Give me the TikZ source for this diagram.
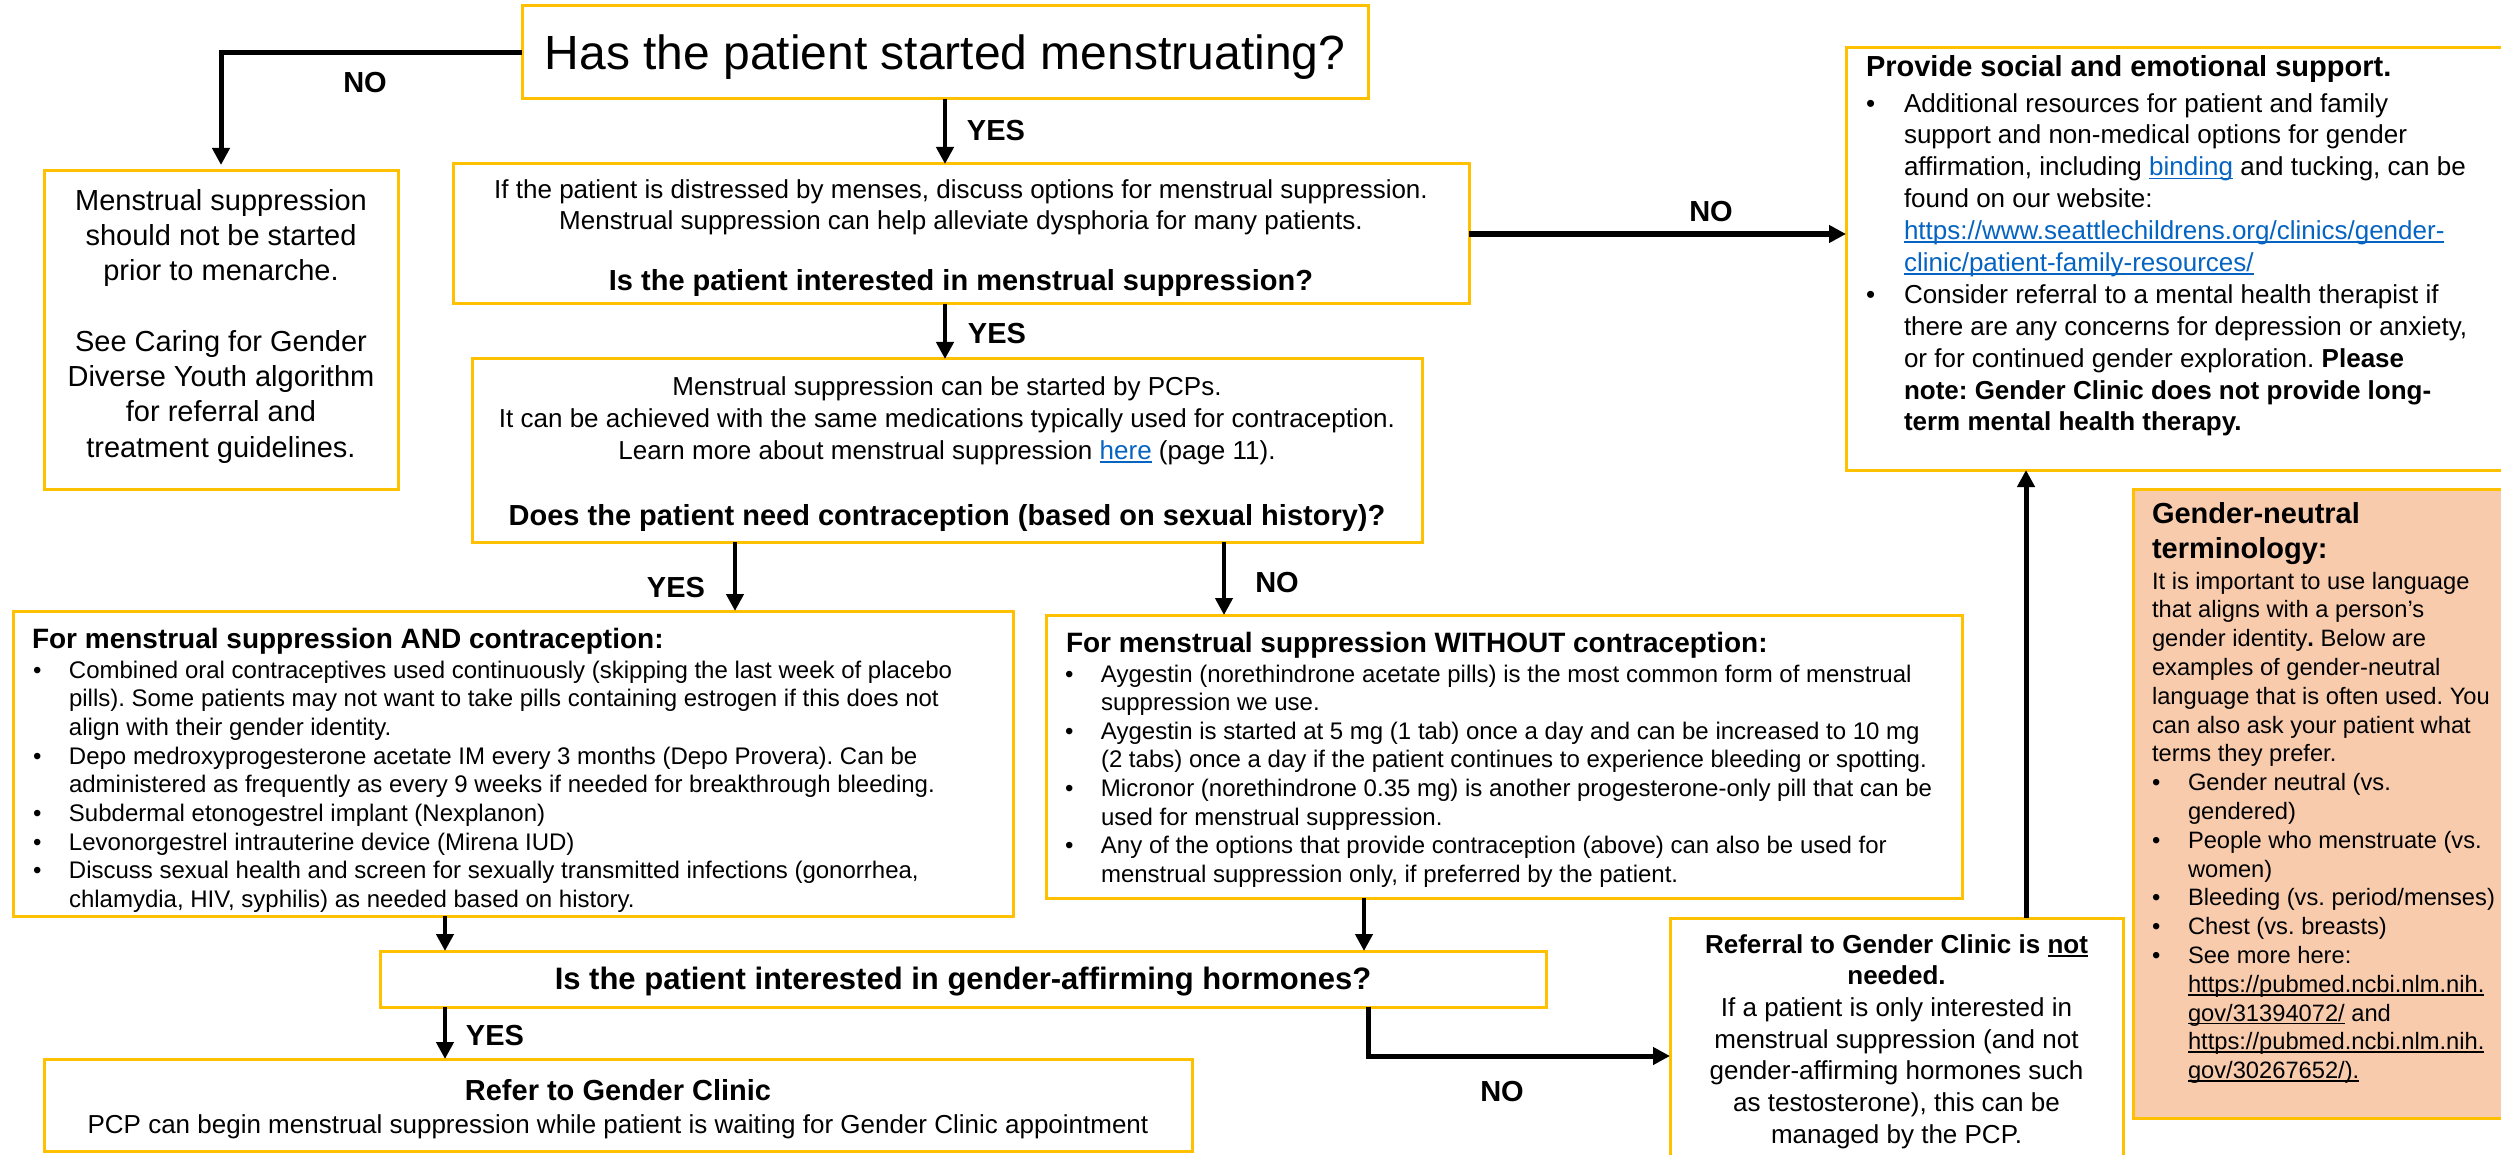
\documentclass[tikz,border=0pt]{standalone}
\usepackage{fontspec}
\setmainfont{Liberation Sans}
\usetikzlibrary{arrows.meta,calc}
\definecolor{gold}{HTML}{FFC000}
\definecolor{linkblue}{HTML}{0563C1}
\definecolor{peach}{HTML}{F8CBAD}
\frenchspacing
\newlength\bind
\newcommand\fsz[2]{\fontsize{#1pt}{#2pt}\selectfont}
\newcommand\ts{\rule{0pt}{1em}}
\newcommand\myul[1]{\setbox0=\hbox{#1}\rlap{\rule[-0.14em]{\wd0}{0.07em}}\box0\relax}
\newcommand\lk[1]{{\color{linkblue}\myul{#1}}}
\newcommand\bu{\makebox[\bind][l]{•}}
\newcommand\ct{\hspace*{\bind}}
\begin{document}
\begin{tikzpicture}[x=1pt,y=-1pt,
  box/.style={draw=gold,line width=3pt,inner sep=0pt,outer sep=0pt},
  txt/.style={inner sep=0pt,outer sep=0pt},
  lab/.style={txt,font=\fsz{29}{35}\bfseries,anchor=base},
  arr/.style={line width=4.5pt,-{Triangle[length=17pt,width=17pt]}},
]
\useasboundingbox (0,0) rectangle (2501,1155);
% boxes
\node[box,minimum width=846pt,minimum height=93pt] (b0) at (945,52.5) {};
\node[box,minimum width=354pt,minimum height=318pt] (b1) at (221,330) {};
\node[box,minimum width=1016pt,minimum height=140pt] (b2) at (961,234) {};
\node[box,minimum width=950pt,minimum height=183pt] (b3) at (947,450.5) {};
\node[box,minimum width=1000pt,minimum height=305pt] (b4) at (513,763.5) {};
\node[box,minimum width=916pt,minimum height=283pt] (bw) at (1504,756.5) {};
\node[box,minimum width=1166pt,minimum height=56pt] (b5) at (963,979) {};
\node[box,minimum width=1148pt,minimum height=92pt] (b6) at (618,1105) {};
\node[box,minimum width=453pt,minimum height=252pt] (b7) at (1896.5,1044) {};
\node[box,minimum width=669pt,minimum height=422pt] (b8) at (2180.5,259) {};
\node[box,fill=peach,minimum width=382pt,minimum height=629pt] (b9) at (2324,803.5) {};
% texts
\node[txt,font=\fsz{48}{56},anchor=base] (t0) at (945,69.6) {Has the patient started menstruating?};
\node[txt,font=\fsz{29}{35.3},align=center,anchor=north] (t1) at (221,181) {\ts Menstrual suppression\\should not be started\\prior to menarche.\\\mbox{}\\See Caring for Gender\\Diverse Youth algorithm\\for referral and\\treatment guidelines.};
\node[txt,font=\fsz{26}{31},align=center,anchor=north] (t2a) at (961,173) {\ts If the patient is distressed by menses, discuss options for menstrual suppression.\\Menstrual suppression can help alleviate dysphoria for many patients.};
\node[txt,font=\fsz{29}{35}\bfseries,anchor=base] (t2b) at (961,291) {Is the patient interested in menstrual suppression?};
\node[txt,font=\fsz{26}{32},align=center,anchor=north] (t3a) at (947,369) {\ts Menstrual suppression can be started by PCPs.\\It can be achieved with the same medications typically used for contraception.\\Learn more about menstrual suppression \lk{here} (page 11).};
\node[txt,font=\fsz{29}{35}\bfseries,anchor=base] (t3b) at (947,525) {Does the patient need contraception (based on sexual history)?};
\global\bind=36pt
\node[txt,font=\fsz{28}{34}\bfseries,anchor=base west] (t4h) at (32,648) {For menstrual suppression AND contraception:};
\node[txt,font=\fsz{24}{28.7},align=left,anchor=north west] (t4) at (33,654) {\ts\bu Combined oral contraceptives used continuously (skipping the last week of placebo\\
\ct pills). Some patients may not want to take pills containing estrogen if this does not\\
\ct align with their gender identity.\\
\bu Depo medroxyprogesterone acetate IM every 3 months (Depo Provera). Can be\\
\ct administered as frequently as every 9 weeks if needed for breakthrough bleeding.\\
\bu Subdermal etonogestrel implant (Nexplanon)\\
\bu Levonorgestrel intrauterine device (Mirena IUD)\\
\bu Discuss sexual health and screen for sexually transmitted infections (gonorrhea,\\
\ct chlamydia, HIV, syphilis) as needed based on history.};
\node[txt,font=\fsz{28}{34}\bfseries,anchor=base west] (twh) at (1066,652) {For menstrual suppression WITHOUT contraception:};
\node[txt,font=\fsz{24}{28.6},align=left,anchor=north west] (tw) at (1065,658) {\ts\bu Aygestin (norethindrone acetate pills) is the most common form of menstrual\\
\ct suppression we use.\\
\bu Aygestin is started at 5 mg (1 tab) once a day and can be increased to 10 mg\\
\ct (2 tabs) once a day if the patient continues to experience bleeding or spotting.\\
\bu Micronor (norethindrone 0.35 mg) is another progesterone-only pill that can be\\
\ct used for menstrual suppression.\\
\bu Any of the options that provide contraception (above) can also be used for\\
\ct menstrual suppression only, if preferred by the patient.};
\node[txt,font=\fsz{31}{37}\bfseries,anchor=base] (t5) at (963,989) {Is the patient interested in gender-affirming hormones?};
\node[txt,font=\fsz{29}{35}\bfseries,anchor=base] (t6a) at (618,1100) {Refer to Gender Clinic};
\node[txt,font=\fsz{26}{31},anchor=base] (t6b) at (618,1133) {PCP can begin menstrual suppression while patient is waiting for Gender Clinic appointment};
\node[txt,font=\fsz{26}{31.7},align=center,anchor=north] (t7) at (1896.5,927) {\ts\textbf{Referral to Gender Clinic is \myul{not}}\\\textbf{needed.}\\If a patient is only interested in\\menstrual suppression (and not\\gender-affirming hormones such\\as testosterone), this can be\\managed by the PCP.};
\global\bind=38pt
\node[txt,font=\fsz{29}{35}\bfseries,anchor=base west] (t8h) at (1866,77) {Provide social and emotional support.};
\node[txt,font=\fsz{26}{31.9},align=left,anchor=north west] (t8) at (1866,86) {\ts\bu Additional resources for patient and family\\
\ct support and non-medical options for gender\\
\ct affirmation, including \lk{binding} and tucking, can be\\
\ct found on our website:\\
\ct \lk{https://www.seattlechildrens.org/clinics/gender-}\\
\ct \lk{clinic/patient-family-resources/}\\
\bu Consider referral to a mental health therapist if\\
\ct there are any concerns for depression or anxiety,\\
\ct or for continued gender exploration. \textbf{Please}\\
\ct \textbf{note: Gender Clinic does not provide long-}\\
\ct \textbf{term mental health therapy.}};
\global\bind=36pt
\node[txt,font=\fsz{29}{35}\bfseries,align=left,anchor=north west] (t9h) at (2152,494) {\ts Gender-neutral\\terminology:};
\node[txt,font=\fsz{23.7}{28.8},align=left,anchor=north west] (t9) at (2152,565.3) {\ts It is important to use language\\
that aligns with a person’s\\
gender identity\textbf{.} Below are\\
examples of gender-neutral\\
language that is often used. You\\
can also ask your patient what\\
terms they prefer.\\
\bu Gender neutral (vs.\\
\ct gendered)\\
\bu People who menstruate (vs.\\
\ct women)\\
\bu Bleeding (vs. period/menses)\\
\bu Chest (vs. breasts)\\
\bu See more here:\\
\ct \myul{https://pubmed.ncbi.nlm.nih.}\\
\ct \myul{gov/31394072/} and\\
\ct \myul{https://pubmed.ncbi.nlm.nih.}\\
\ct \myul{gov/30267652/).}};
% labels
\node[lab] (l1) at (365,93) {NO};
\node[lab] (l2) at (996,141) {YES};
\node[lab] (l3) at (997,344) {YES};
\node[lab] (l4) at (1711,222) {NO};
\node[lab] (l5) at (676,597) {YES};
\node[lab] (l6) at (1277,592) {NO};
\node[lab] (l7) at (495,1045) {YES};
\node[lab] (l8) at (1502,1101) {NO};
% connector anchors
\coordinate (c1) at ([yshift=6pt]b1.north);
\coordinate (c2) at ([xshift=-16pt]b2.south);
\coordinate (c3) at ([xshift=-212pt]b3.south);
\coordinate (c4) at ([xshift=277pt]b3.south);
\coordinate (c5) at ([xshift=-68pt]b4.south);
\coordinate (c6) at ([xshift=-140pt]bw.south);
\coordinate (c7) at ([xshift=-518pt]b5.south);
\coordinate (c8) at ([xshift=405pt]b5.south);
\coordinate (c9) at ([yshift=-12pt]b7.west);
\coordinate (c10) at ([xshift=129.5pt]b7.north);
% connectors
\draw[arr,line width=5pt] (b0.west) -| (c1);
\draw[arr] (b0.south) -- (b0.south |- b2.north);
\draw[arr] (c2) -- (c2 |- b3.north);
\draw[arr,line width=5.5pt] (b2.east) -- (b2.east -| b8.west);
\draw[arr] (c3) -- (c3 |- b4.north);
\draw[arr] (c4) -- (c4 |- bw.north);
\draw[arr] (c5) -- (c5 |- b5.north);
\draw[arr] (c6) -- (c6 |- b5.north);
\draw[arr] (c7) -- (c7 |- b6.north);
\draw[arr,line width=5pt] (c8) |- (c9);
\draw[arr,line width=5pt] (c10) -- (c10 |- b8.south);
\end{tikzpicture}
\end{document}
